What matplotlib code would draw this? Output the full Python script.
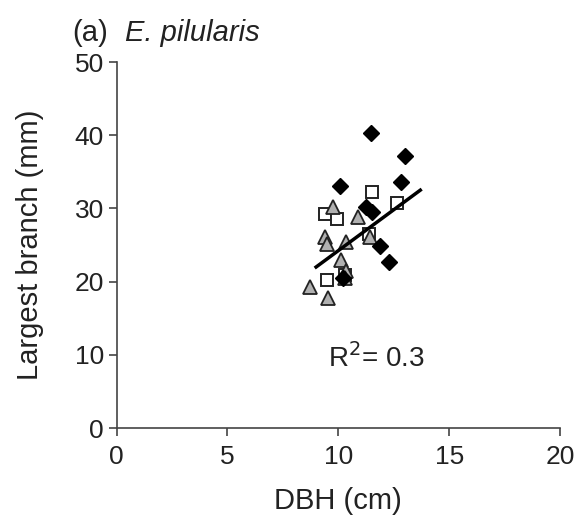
import numpy as np
import matplotlib.pyplot as plt

plt.rcParams['font.family'] = ['Liberation Sans', 'DejaVu Sans']

# filled diamonds
dia_x = [11.47, 13.0, 12.85, 10.07, 11.27, 11.5, 11.87, 12.3, 10.2]
dia_y = [40.3, 37.2, 33.6, 33.0, 30.2, 29.5, 24.9, 22.7, 20.5]
# open squares
sq_x = [11.5, 9.39, 9.95, 12.63, 9.47, 10.3, 11.4]
sq_y = [32.3, 29.3, 28.5, 30.7, 20.2, 20.9, 26.5]
# grey triangles
tri_x = [9.76, 9.39, 9.47, 10.37, 10.9, 11.42, 10.14, 10.37, 10.3, 8.71, 9.54]
tri_y = [30.2, 26.1, 25.2, 25.4, 28.8, 26.1, 22.9, 21.5, 20.5, 19.3, 17.7]
# fitted line ends
fit_x = [9.0, 13.7]
fit_y = [22.0, 32.5]

fig = plt.figure(figsize=(5.74, 5.17), dpi=100)
ax = fig.add_axes([0.203, 0.172, 0.7726, 0.708])

ax.plot(sq_x, sq_y, 's', ms=9, mfc='white', mec='#222222', mew=1.4, zorder=3)
ax.plot(tri_x, tri_y, '^', ms=10.5, mfc='#b0b0b0', mec='#222222', mew=1.3, zorder=4)
ax.plot(dia_x, dia_y, 'D', ms=8, mfc='black', mec='black', zorder=5)
ax.plot(fit_x, fit_y, '-', color='black', lw=2.5, zorder=6)

ax.set_xlim(0, 20)
ax.set_ylim(0, 50)
ax.set_xticks([0, 5, 10, 15, 20])
ax.set_yticks([0, 10, 20, 30, 40, 50])
for s in ['top', 'right']:
    ax.spines[s].set_visible(False)
for s in ['left', 'bottom']:
    ax.spines[s].set_color('#444444')
    ax.spines[s].set_linewidth(1.2)
ax.tick_params(direction='out', length=6, width=1.2, color='#444444', labelsize=19, labelcolor='#222222')
ax.tick_params(axis='x', pad=6)
ax.tick_params(axis='y', pad=3)

ax.set_xlabel('DBH (cm)', fontsize=21, color='#222222')
ax.set_ylabel('Largest branch (mm)', fontsize=21, color='#222222')
ax.xaxis.set_label_coords(0.5, -0.16)
ax.yaxis.set_label_coords(-0.163, 0.5)

ax.text(11.7, 9.5, r'R$^2$= 0.3', fontsize=20, ha='center', va='center', color='#222222')
fig.text(0.125, 0.936, '(a)', fontsize=21, color='#222222', va='center')
fig.text(0.218, 0.936, 'E. pilularis', fontsize=21, style='italic', color='#222222', va='center')

fig.savefig('out.png', dpi=100)
